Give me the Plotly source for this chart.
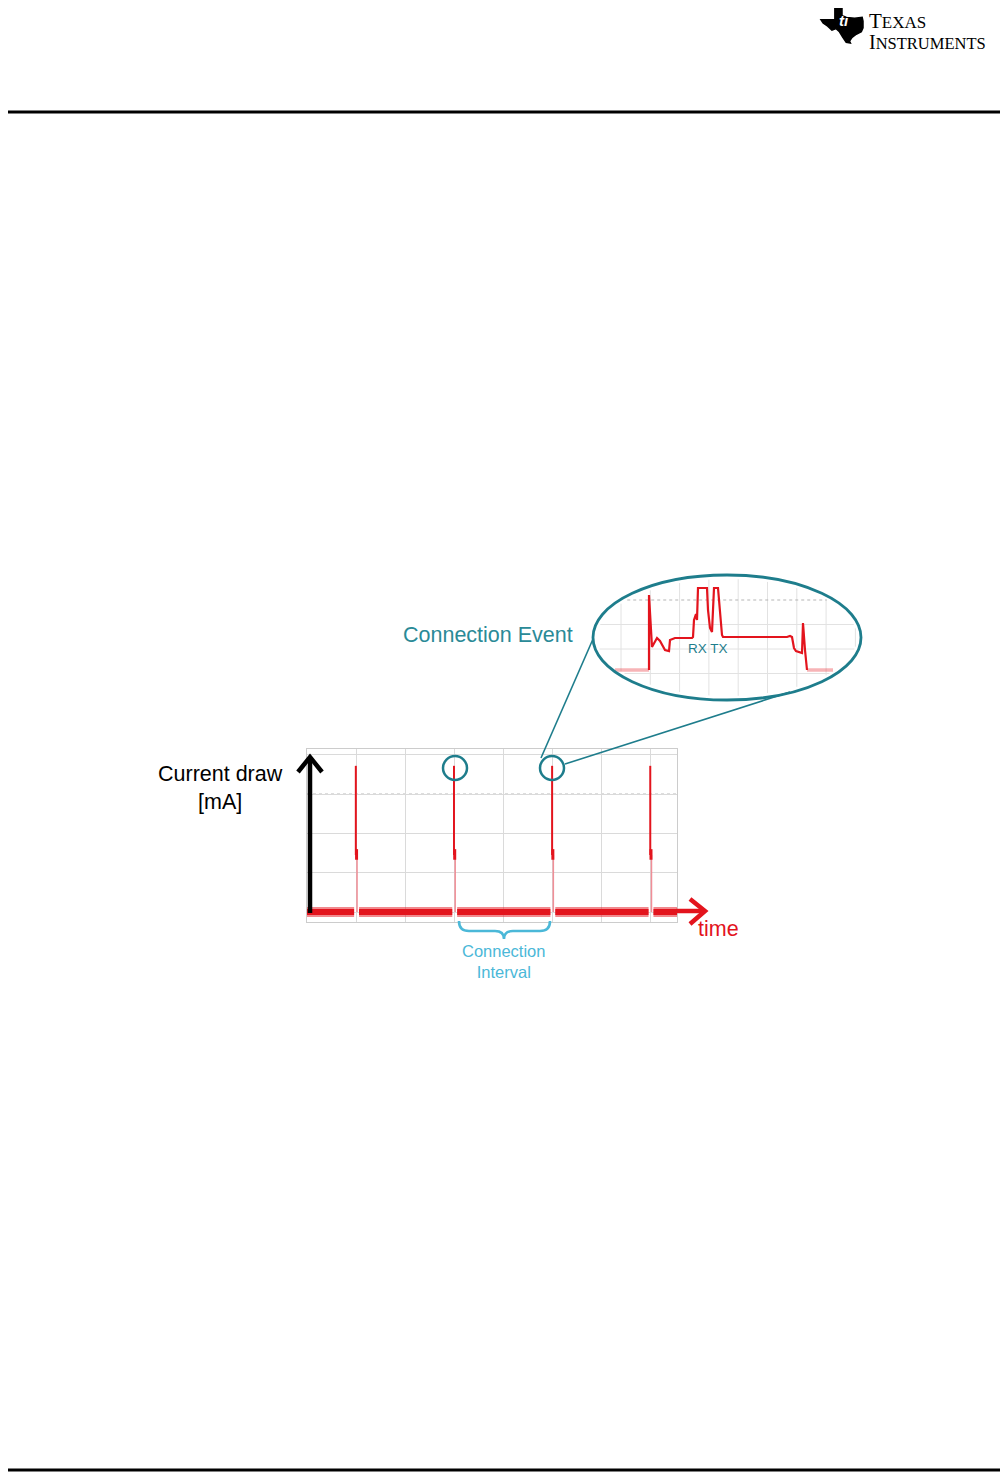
import plotly.graph_objects as go

PAGE_W, PAGE_H = 1008, 1472
OFF = 8                      # default page body margin of the written html
W, H = PAGE_W - OFF, PAGE_H - OFF

# ---------------- data ----------------
# main oscilloscope view (time in grid divisions, current in grid divisions)
spike_times = [0, 2, 4, 6]
spike_peak = 3.72
spike_mid = 1.45
baseline_level = 0.0
main_x_range = [-1.01, 6.53]
main_y_range = [-0.254, 4.148]
main_grid_centre = 3

# zoomed connection event (inset)
inset_t = [0, 0, 3, 8, 11, 16, 20, 21, 26, 43, 44, 45, 47, 48, 49, 58, 59, 61, 63, 64,
           65, 69, 71, 73, 74, 100, 138, 141, 143, 145, 147, 153, 154, 156, 158]
inset_i = [0, 7.5, 2.3, 3.2, 2.9, 2.0, 1.9, 3.0, 3.2, 3.2, 3.3, 5.0, 5.6, 5.0, 8.2, 8.2, 6.0, 4.2, 3.8, 5.5,
           8.2, 8.2, 6.0, 3.5, 3.3, 3.3, 3.3, 3.4, 3.3, 2.2, 1.9, 1.7, 4.7, 2.0, 0]
inset_pre_t = [-34, 0]
inset_pre_i = [0, 0]
inset_post_t = [158, 184]
inset_post_i = [0, 0]
inset_x_range = [-56, 212]
inset_y_range = [-3.0, 9.5]

# labels
y_label = "Current draw<br>[mA]"
x_label = "time"
event_label = "Connection Event"
interval_label = "Connection<br>Interval"
rx_tx_label = "RX TX"
logo_label = ('<span style="font-size:21px">T</span><span style="font-size:17px">EXAS</span><br>'
              '<span style="font-size:20px">I</span><span style="font-size:16.5px">NSTRUMENTS</span>')

# ---------------- styles ----------------
RED = "#e3141d"
TEAL = "#1e7d8c"
TEAL_TXT = "#2a8a97"
LBLUE = "#4bb8d8"
FONT = "Liberation Sans, Arial, sans-serif"


def px(x):
    return (x - OFF) / W


def py(y):
    return 1 - (y - OFF) / H


def path_px(points, close=False):
    s = "M " + " L ".join(f"{px(x):.5f},{py(y):.5f}" for x, y in points)
    return s + (" Z" if close else "")


fig = go.Figure()

# ---- main chart traces ----
bx, by = [main_x_range[0]], [baseline_level]
for t in spike_times:
    bx += [t - 0.05, None, t + 0.05]
    by += [baseline_level, None, baseline_level]
bx.append(main_x_range[1])
by.append(baseline_level)
fig.add_trace(go.Scatter(x=bx, y=by, mode="lines", line=dict(color="rgba(227,20,29,0.5)", width=10),
                         hoverinfo="skip", xaxis="x", yaxis="y"))
fig.add_trace(go.Scatter(x=bx, y=by, mode="lines", line=dict(color=RED, width=6),
                         hoverinfo="skip", xaxis="x", yaxis="y"))

lx, ly, ux, uy, mx, my = [], [], [], [], [], []
for t in spike_times:
    lx += [t + 0.01, t + 0.01, None]
    ly += [baseline_level, spike_mid, None]
    ux += [t - 0.015, t - 0.015, None]
    uy += [spike_mid, spike_peak, None]
    mx += [t, t, None]
    my += [spike_mid - 0.12, spike_mid + 0.15, None]
fig.add_trace(go.Scatter(x=lx, y=ly, mode="lines", line=dict(color="rgba(240,130,140,0.9)", width=1.5),
                         hoverinfo="skip", xaxis="x", yaxis="y"))
fig.add_trace(go.Scatter(x=ux, y=uy, mode="lines", line=dict(color=RED, width=2),
                         hoverinfo="skip", xaxis="x", yaxis="y"))
fig.add_trace(go.Scatter(x=mx, y=my, mode="lines", line=dict(color=RED, width=3),
                         hoverinfo="skip", xaxis="x", yaxis="y"))

# ---- inset traces ----
fig.add_trace(go.Scatter(x=inset_pre_t, y=inset_pre_i, mode="lines",
                         line=dict(color="rgba(232,40,50,0.35)", width=3.5), hoverinfo="skip",
                         xaxis="x2", yaxis="y2"))
fig.add_trace(go.Scatter(x=inset_post_t, y=inset_post_i, mode="lines",
                         line=dict(color="rgba(232,40,50,0.35)", width=3.5), hoverinfo="skip",
                         xaxis="x2", yaxis="y2"))
fig.add_trace(go.Scatter(x=inset_t, y=inset_i, mode="lines", line=dict(color=RED, width=2.2),
                         hoverinfo="skip", xaxis="x2", yaxis="y2"))

# ---- layout ----
fig.update_layout(
    width=W, height=H, margin=dict(l=0, r=0, t=0, b=0),
    paper_bgcolor="white", plot_bgcolor="rgba(0,0,0,0)", showlegend=False,
    xaxis=dict(domain=[px(307), px(677)], range=main_x_range, dtick=1, tick0=0,
               showgrid=True, gridcolor="#dadada", gridwidth=1, zeroline=False,
               showline=True, mirror=True, linecolor="#cccccc", linewidth=1,
               showticklabels=False, ticks=""),
    yaxis=dict(domain=[py(922), py(749)], range=main_y_range, dtick=1, tick0=0,
               showgrid=True, gridcolor="#dadada", gridwidth=1, zeroline=False,
               showline=True, mirror=True, linecolor="#cccccc", linewidth=1,
               showticklabels=False, ticks=""),
    xaxis2=dict(domain=[px(593), px(861)], range=inset_x_range, visible=False, anchor="y2"),
    yaxis2=dict(domain=[py(700), py(575)], range=inset_y_range, visible=False, anchor="x2"),
)

shapes = []
# centre dotted line on the main chart
shapes.append(dict(type="line", xref="x", yref="y", x0=main_x_range[0], x1=main_x_range[1],
                   y0=main_grid_centre, y1=main_grid_centre,
                   line=dict(color="#a8a8a8", width=1, dash="dot"), layer="below"))

# inset grid clipped to the ellipse
ecx, ecy, ea, eb = 727, 637.5, 134, 62.5
ia, ib = ea - 4, eb - 4
for k in range(9):
    gx = 621 + k * 29.3
    d = 1 - ((gx - ecx) / ia) ** 2
    if d > 0:
        h = ib * d ** 0.5
        shapes.append(dict(type="line", xref="paper", yref="paper", x0=px(gx), x1=px(gx),
                           y0=py(ecy - h), y1=py(ecy + h), line=dict(color="#e2e2e2", width=1),
                           layer="below"))
for k, gy in enumerate([600, 624.5, 649, 673.5, 697]):
    d = 1 - ((gy - ecy) / ib) ** 2
    if d > 0:
        w = ia * d ** 0.5
        shapes.append(dict(type="line", xref="paper", yref="paper", x0=px(ecx - w), x1=px(ecx + w),
                           y0=py(gy), y1=py(gy),
                           line=dict(color="#b5b5b5" if k == 0 else "#e2e2e2", width=1,
                                     dash="dot" if k == 0 else "solid"),
                           layer="below"))

# ellipse + callout lines + circles
shapes.append(dict(type="circle", xref="paper", yref="paper", x0=px(593), x1=px(861),
                   y0=py(700), y1=py(575), line=dict(color=TEAL, width=2.8)))
shapes.append(dict(type="line", xref="paper", yref="paper", x0=px(541), y0=py(758),
                   x1=px(593), y1=py(639), line=dict(color=TEAL, width=1.6)))
shapes.append(dict(type="line", xref="paper", yref="paper", x0=px(565), y0=py(764),
                   x1=px(790), y1=py(692), line=dict(color=TEAL, width=1.6)))
for cx, cy in [(455, 768), (552, 768)]:
    shapes.append(dict(type="circle", xref="paper", yref="paper", x0=px(cx - 12), x1=px(cx + 12),
                       y0=py(cy + 12), y1=py(cy - 12), line=dict(color=TEAL, width=2.5)))

# axis arrows
shapes.append(dict(type="line", xref="paper", yref="paper", x0=px(310), x1=px(310),
                   y0=py(913), y1=py(758), line=dict(color="black", width=4.5)))
shapes.append(dict(type="path", xref="paper", yref="paper",
                   path=path_px([(298, 772), (310, 757), (322, 772)]),
                   line=dict(color="black", width=4.5)))
shapes.append(dict(type="line", xref="paper", yref="paper", x0=px(676), x1=px(703),
                   y0=py(911), y1=py(911), line=dict(color=RED, width=4.5)))
shapes.append(dict(type="path", xref="paper", yref="paper",
                   path=path_px([(690, 899), (705, 911), (690, 924)]),
                   line=dict(color=RED, width=4.5)))

# brace under the connection interval
brace = (f"M {px(459):.5f},{py(921):.5f} Q {px(459):.5f},{py(931):.5f} {px(469):.5f},{py(931):.5f} "
         f"L {px(495):.5f},{py(931):.5f} Q {px(504):.5f},{py(931):.5f} {px(504):.5f},{py(939):.5f} "
         f"Q {px(504):.5f},{py(931):.5f} {px(513):.5f},{py(931):.5f} "
         f"L {px(540):.5f},{py(931):.5f} Q {px(550):.5f},{py(931):.5f} {px(550):.5f},{py(921):.5f}")
shapes.append(dict(type="path", xref="paper", yref="paper", path=brace,
                   line=dict(color=LBLUE, width=2.6)))

# page rules
shapes.append(dict(type="line", xref="paper", yref="paper", x0=0, x1=1, y0=py(112), y1=py(112),
                   line=dict(color="black", width=3)))
shapes.append(dict(type="line", xref="paper", yref="paper", x0=0, x1=1, y0=py(1470), y1=py(1470),
                   line=dict(color="black", width=3)))

# Texas logo outline
tex = [(0.33, 0.0), (0.50, 0.0), (0.50, 0.32), (0.62, 0.36), (0.80, 0.38), (0.98, 0.36), (1.0, 0.45),
       (1.0, 0.62), (0.96, 0.72), (0.84, 0.78), (0.74, 0.86), (0.68, 0.95), (0.70, 1.0), (0.60, 0.98),
       (0.52, 0.86), (0.44, 0.72), (0.36, 0.64), (0.26, 0.68), (0.16, 0.58), (0.05, 0.50), (0.0, 0.42),
       (0.33, 0.42)]
shapes.append(dict(type="path", xref="paper", yref="paper",
                   path=path_px([(821 + 42 * u, 3 + 40 * v) for u, v in tex], close=True),
                   fillcolor="black", line=dict(color="black", width=1.5)))

fig.update_layout(shapes=shapes)


def ann(text, x, y, size, color, xanchor="center", family=FONT, align="center"):
    fig.add_annotation(text=text, xref="paper", yref="paper", x=px(x), y=py(y), showarrow=False,
                       xanchor=xanchor, yanchor="middle", align=align,
                       font=dict(family=family, size=size, color=color))


ann(y_label, 220, 788, 21.5, "black")
ann(x_label, 718, 929, 21.5, RED)
ann(event_label, 488, 635, 21.5, TEAL_TXT)
ann(interval_label, 503, 961, 16.5, LBLUE)
ann(rx_tx_label, 708, 648, 13.5, TEAL)
ann("<b><i>ti</i></b>", 844, 20, 15, "white")
ann(logo_label, 867, 31, 16, "black", xanchor="left", family="Liberation Serif, serif", align="left")

fig.write_html("out.html")
